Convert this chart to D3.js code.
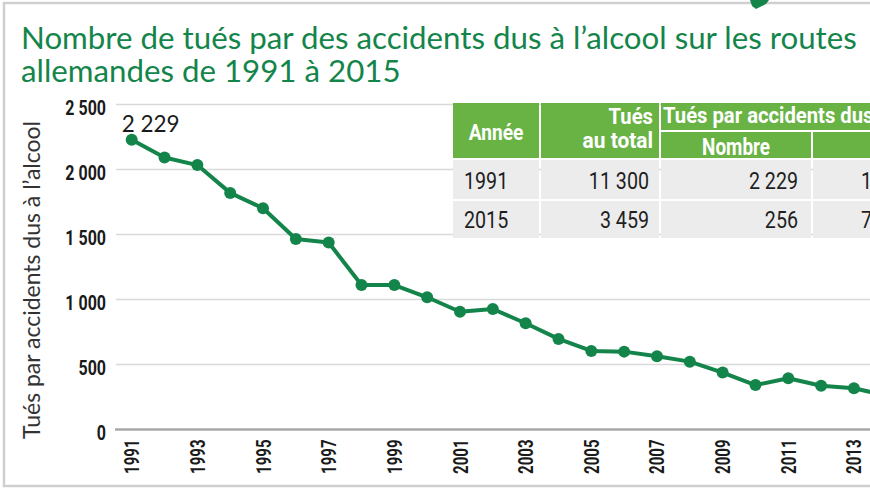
<!DOCTYPE html>
<html><head><meta charset="utf-8">
<script src="https://cdn.jsdelivr.net/npm/d3@7"></script>
<style>
html,body{margin:0;padding:0;background:#fff;overflow:hidden}
svg{display:block}
</style></head>
<body>
<svg id="c" width="870" height="490"></svg>
<script>
// ---- data ----
const years = [1991,1992,1993,1994,1995,1996,1997,1998,1999,2000,2001,2002,2003,2004,2005,2006,2007,2008,2009,2010,2011,2012,2013,2014,2015];
const killedAlcohol = [2229,2092,2034,1820,1702,1466,1438,1111,1111,1017,906,927,817,697,604,599,564,522,438,342,394,336,317,260,256];
const yTicks = [0,500,1000,1500,2000,2500];
const xTickYears = [1991,1993,1995,1997,1999,2001,2003,2005,2007,2009,2011,2013,2015];
const titleLines = ["Nombre de tués par des accidents dus à l\u2019alcool sur les routes","allemandes de 1991 à 2015"];
const yTitle = "Tués par accidents dus à l\u2019alcool";
const tableHeader = ["Année","Tués","au total","Tués par accidents dus à l\u2019alcool","Nombre","Part"];
const tableRows = [["1991","11 300","2 229","19,7 %"],["2015","3 459","256","7,4 %"]];

const green = "#14854a", tableGreen = "#69b345";
const NARROW = "Roboto,'Liberation Sans',sans-serif";
const fmtNum = v => d3.format(",")(v).replace(/,/g," ");

const svg = d3.select("#c");

// condensed text helper (horizontal compression of the glyphs)
function ntext(parent, x, y, anchor, t, o){
  o = o || {};
  const g = parent.append("g").attr("transform",`translate(${x},${y})${o.rot?` rotate(${o.rot})`:""} scale(${o.sx||0.8},1)`);
  return g.append("text").attr("text-anchor",anchor).attr("dy",o.dy||0)
    .attr("font-family",NARROW).attr("font-size",o.fs||19).attr("font-weight",o.w||"normal")
    .attr("fill",o.fill||"#1a1a1a").text(t);
}

// frame
svg.append("rect").attr("x",4).attr("y",3).attr("width",900).attr("height",483)
  .attr("fill","none").attr("stroke","#cfcfcf").attr("stroke-width",2.5);
svg.append("polygon").attr("points","750,0 769,0 766,4 756,9 752,6").attr("fill",green);

// scales
const x = d3.scaleLinear().domain([1991,2015]).range([131.7, 131.7 + 24*32.83]);
const y = d3.scaleLinear().domain([0,2500]).range([429.5,104.5]);

// title
const tfont = "Lato,'Noto Sans',sans-serif";
const t1 = svg.append("text").attr("x",21).attr("y",49).attr("fill",green).attr("font-family",tfont)
  .attr("font-size",29).text(titleLines[0]);
const fsT = 29*836/t1.node().getComputedTextLength();
t1.attr("font-size",fsT);
svg.append("text").attr("x",21).attr("y",82).attr("fill",green).attr("font-family",tfont)
  .attr("font-size",fsT).text(titleLines[1]);

// grid
svg.append("g").selectAll("line").data(yTicks.filter(d=>d>0)).join("line")
  .attr("x1",116).attr("x2",870).attr("y1",d=>y(d)).attr("y2",d=>y(d))
  .attr("stroke","#d9d9d9").attr("stroke-width",1.5);
svg.append("line").attr("x1",115).attr("x2",870).attr("y1",y(0)).attr("y2",y(0))
  .attr("stroke","#a8a8a8").attr("stroke-width",2.5);

// y axis (D3 axis for positions, condensed labels)
const gy = svg.append("g").attr("transform","translate(116,0)")
  .call(d3.axisLeft(y).tickValues(yTicks).tickSize(0).tickFormat(""));
gy.select(".domain").remove();
gy.selectAll(".tick").each(function(d){
  ntext(d3.select(this), -10, 3, "end", fmtNum(d), {fs:20, sx:0.8, w:"bold", dy:"0.35em"});
});

// x axis
const gx = svg.append("g").attr("transform",`translate(0,${y(0)})`)
  .call(d3.axisBottom(x).tickValues(xTickYears).tickSize(0).tickFormat(""));
gx.select(".domain").remove();
gx.selectAll(".tick").each(function(d){
  ntext(d3.select(this), 0, 10, "end", d3.format("d")(d), {fs:20, sx:0.75, w:"bold", rot:-90, dy:"0.35em"});
});

// y title
const yt = svg.append("text").attr("font-family","Lato,'Noto Sans',sans-serif").attr("font-size",20)
  .attr("fill","#333").attr("text-anchor","middle")
  .attr("transform","translate(40,280) rotate(-90)").text(yTitle);
yt.attr("font-size", 20*318/yt.node().getComputedTextLength());

// line
const pts = years.map((yr,i)=>({yr, v:killedAlcohol[i]}));
svg.append("path").datum(pts).attr("fill","none").attr("stroke",green).attr("stroke-width",4)
  .attr("stroke-linejoin","round")
  .attr("d", d3.line().x(d=>x(d.yr)).y(d=>y(d.v)));
svg.append("g").selectAll("circle").data(pts).join("circle")
  .attr("cx",d=>x(d.yr)).attr("cy",d=>y(d.v)).attr("r",6).attr("fill",green);

// data label
svg.append("text").attr("x",x(years[0])-10).attr("y",y(killedAlcohol[0])-8)
  .attr("font-family","Lato,'Noto Sans',sans-serif").attr("font-size",22.5).attr("fill","#1a1a1a")
  .text(fmtNum(killedAlcohol[0]));

// table
const T = svg.append("g");
const cols = [453,541,661,813,960];
const hTop=103, hMid=131, hBot=158, r1Top=160, r1Bot=199, r2Top=201, r2Bot=238;
T.append("rect").attr("x",cols[0]).attr("y",hTop).attr("width",cols[1]-cols[0]-2).attr("height",hBot-hTop).attr("fill",tableGreen);
T.append("rect").attr("x",cols[1]).attr("y",hTop).attr("width",cols[2]-cols[1]-2).attr("height",hBot-hTop).attr("fill",tableGreen);
T.append("rect").attr("x",cols[2]).attr("y",hTop).attr("width",cols[4]-cols[2]).attr("height",hMid-hTop-1).attr("fill",tableGreen);
T.append("rect").attr("x",cols[2]).attr("y",hMid+1).attr("width",cols[3]-cols[2]-2).attr("height",hBot-hMid-1).attr("fill",tableGreen);
T.append("rect").attr("x",cols[3]).attr("y",hMid+1).attr("width",cols[4]-cols[3]).attr("height",hBot-hMid-1).attr("fill",tableGreen);
const rowY = [[r1Top,r1Bot],[r2Top,r2Bot]];
tableRows.forEach((row,ri)=>{
  for(let c=0;c<4;c++){
    T.append("rect").attr("x",cols[c]).attr("y",rowY[ri][0]).attr("width",cols[c+1]-cols[c]-2)
      .attr("height",rowY[ri][1]-rowY[ri][0]).attr("fill","#ececec");
  }
  const by = rowY[ri][1]-10;
  const o = {fs:24, sx:0.82, fill:"#1f1f1f"};
  ntext(T, cols[0]+11, by, "start", row[0], o);
  ntext(T, cols[1]+108, by, "end", row[1], o);
  ntext(T, cols[2]+137, by, "end", row[2], o);
  ntext(T, cols[3]+48, by, "start", row[3], o);
});
const ho = (fs,sx)=>({fs:fs, sx:sx, w:"bold", fill:"#fff"});
ntext(T, (cols[0]+cols[1]-2)/2, 140, "middle", tableHeader[0], ho(22,0.87));
ntext(T, cols[1]+112, 124, "end", tableHeader[1], ho(22,0.92));
ntext(T, cols[1]+112, 148, "end", tableHeader[2], ho(22,0.95));
ntext(T, cols[2]+2, 123, "start", tableHeader[3], ho(22.5,0.9));
ntext(T, (cols[2]+cols[3]-2)/2, 155, "middle", tableHeader[4], ho(23,0.82));
</script>
</body></html>
